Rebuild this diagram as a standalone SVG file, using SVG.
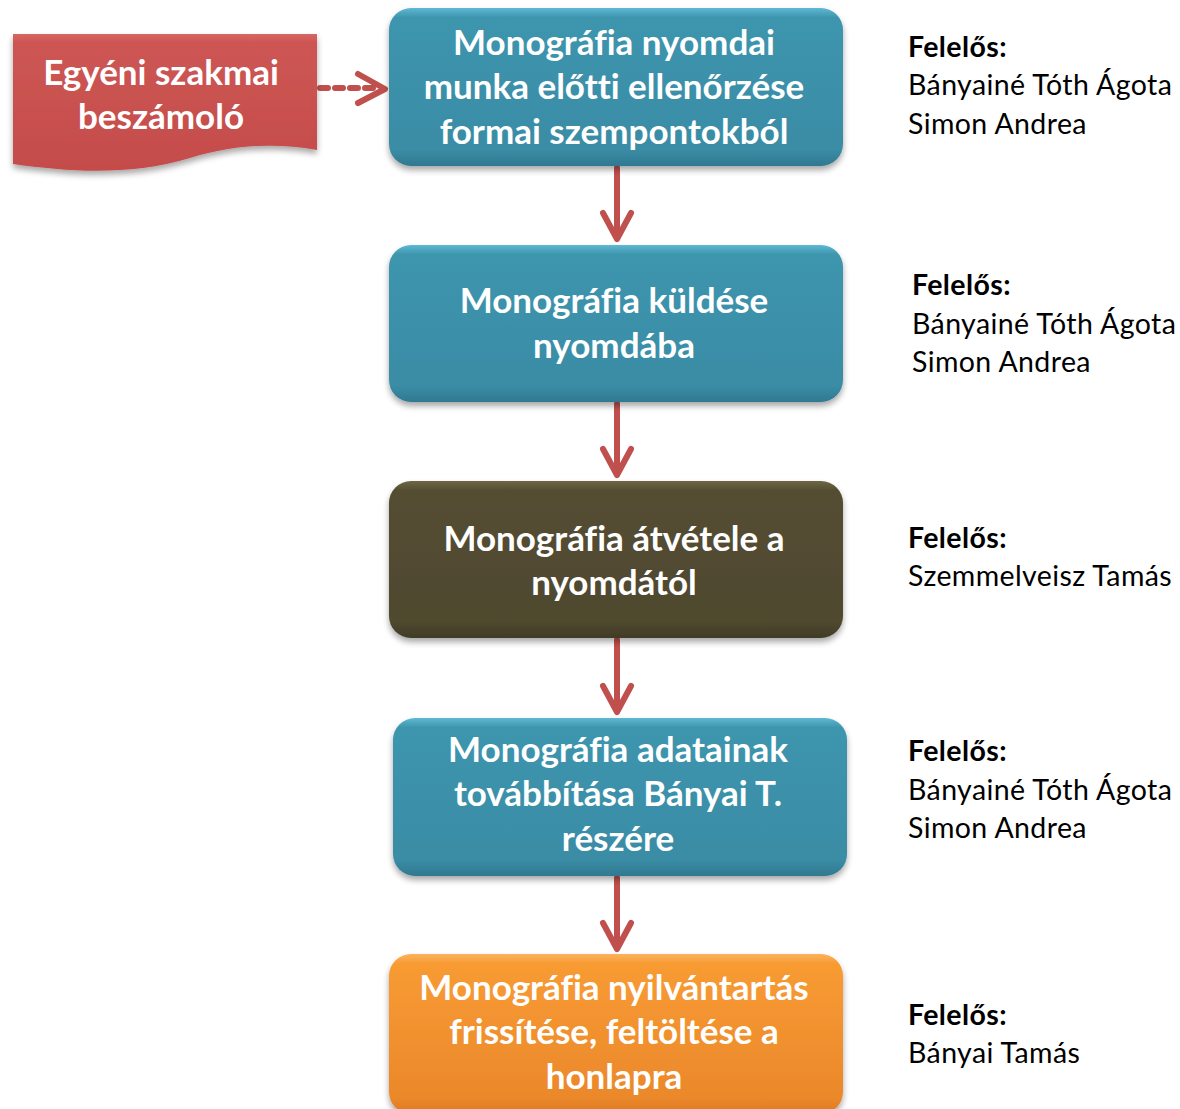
<svg xmlns="http://www.w3.org/2000/svg" width="1180" height="1109" viewBox="0 0 1180 1109">
<defs>
<linearGradient id="gTeal" x1="0" y1="0" x2="0" y2="1">
<stop offset="0" stop-color="#5fb9d2"/><stop offset="0.06" stop-color="#3d95ae"/><stop offset="0.9" stop-color="#3a8ca5"/><stop offset="1" stop-color="#2f7990"/>
</linearGradient>
<linearGradient id="gOlive" x1="0" y1="0" x2="0" y2="1">
<stop offset="0" stop-color="#6e6645"/><stop offset="0.06" stop-color="#544d32"/><stop offset="0.9" stop-color="#4f482f"/><stop offset="1" stop-color="#413b25"/>
</linearGradient>
<linearGradient id="gOrange" x1="0" y1="0" x2="0" y2="1">
<stop offset="0" stop-color="#fbb260"/><stop offset="0.06" stop-color="#f89b33"/><stop offset="0.9" stop-color="#eb882b"/><stop offset="1" stop-color="#dc7a22"/>
</linearGradient>
<linearGradient id="gRed" x1="0" y1="0" x2="0" y2="1">
<stop offset="0" stop-color="#d96764"/><stop offset="0.06" stop-color="#cd5654"/><stop offset="1" stop-color="#c44c4a"/>
</linearGradient>
<filter id="sh" x="-10%" y="-10%" width="120%" height="130%">
<feGaussianBlur in="SourceAlpha" stdDeviation="3"/>
<feOffset dx="0" dy="4" result="b"/>
<feComponentTransfer><feFuncA type="linear" slope="0.35"/></feComponentTransfer>
<feMerge><feMergeNode/><feMergeNode in="SourceGraphic"/></feMerge>
</filter>
</defs>
<style>
text{font-variant-ligatures:none}
.bt{font-family:Lato,"Open Sans","Liberation Sans",sans-serif;font-weight:bold;font-size:35px;fill:#ffffff;text-anchor:middle}
.rb{font-family:Lato,"Open Sans","Liberation Sans",sans-serif;font-weight:bold;font-size:28.5px;fill:#000000;letter-spacing:0.4px}
.rt{font-family:Lato,"Open Sans","Liberation Sans",sans-serif;font-size:28.5px;fill:#000000;letter-spacing:0.4px}
.con{stroke:#c0504d;stroke-width:6;fill:none;stroke-linecap:round;stroke-linejoin:round}
</style>
<g id="connectors">
<line class="con" x1="320" y1="88" x2="380" y2="88" stroke-dasharray="8,7" stroke-linecap="butt" stroke-width="8"/>
<polyline class="con" points="358,74 385,89 358,103" stroke-width="7"/>
<line class="con" x1="617" y1="168" x2="617" y2="238"/>
<polyline class="con" points="603,213 617,239 631,213" stroke-width="7"/>
<line class="con" x1="617" y1="404" x2="617" y2="474"/>
<polyline class="con" points="603,449 617,475 631,449" stroke-width="7"/>
<line class="con" x1="617" y1="640" x2="617" y2="711"/>
<polyline class="con" points="603,686 617,712 631,686" stroke-width="7"/>
<line class="con" x1="617" y1="878" x2="617" y2="948"/>
<polyline class="con" points="603,923 617,949 631,923" stroke-width="7"/>
</g>
<g id="n0">
<path d="M13,34 H317 V150 C270,142 230,146 190,158 C130,176 70,172 13,164 Z" fill="url(#gRed)" filter="url(#sh)"/>
<text class="bt" x="161" y="85">Egyéni szakmai</text>
<text class="bt" x="161" y="129">beszámoló</text>
</g>
<g id="n1">
<rect x="389" y="8" width="454" height="158" rx="22" fill="url(#gTeal)" filter="url(#sh)"/>
<text class="bt" x="614" y="55">Monográfia nyomdai</text>
<text class="bt" x="614" y="99">munka előtti ellenőrzése</text>
<text class="bt" x="614" y="144">formai szempontokból</text>
</g>
<g id="n2">
<rect x="389" y="245" width="454" height="157" rx="22" fill="url(#gTeal)" filter="url(#sh)"/>
<text class="bt" x="614" y="313">Monográfia küldése</text>
<text class="bt" x="614" y="358">nyomdába</text>
</g>
<g id="n3">
<rect x="389" y="481" width="454" height="157" rx="22" fill="url(#gOlive)" filter="url(#sh)"/>
<text class="bt" x="614" y="551">Monográfia átvétele a</text>
<text class="bt" x="614" y="595">nyomdától</text>
</g>
<g id="n4">
<rect x="393" y="718" width="454" height="158" rx="22" fill="url(#gTeal)" filter="url(#sh)"/>
<text class="bt" x="618" y="762">Monográfia adatainak</text>
<text class="bt" x="618" y="806">továbbítása Bányai T.</text>
<text class="bt" x="618" y="851">részére</text>
</g>
<g id="n5">
<rect x="389" y="954" width="454" height="160" rx="22" fill="url(#gOrange)" filter="url(#sh)"/>
<text class="bt" x="614" y="1000">Monográfia nyilvántartás</text>
<text class="bt" x="614" y="1044">frissítése, feltöltése a</text>
<text class="bt" x="614" y="1089">honlapra</text>
</g>
<g id="r1">
<text class="rb" x="908" y="57">Felelős:</text>
<text class="rt" x="908" y="95">Bányainé Tóth Ágota</text>
<text class="rt" x="908" y="134">Simon Andrea</text>
</g>
<g id="r2">
<text class="rb" x="912" y="295">Felelős:</text>
<text class="rt" x="912" y="334">Bányainé Tóth Ágota</text>
<text class="rt" x="912" y="372">Simon Andrea</text>
</g>
<g id="r3">
<text class="rb" x="908" y="548">Felelős:</text>
<text class="rt" x="908" y="586">Szemmelveisz Tamás</text>
</g>
<g id="r4">
<text class="rb" x="908" y="761">Felelős:</text>
<text class="rt" x="908" y="800">Bányainé Tóth Ágota</text>
<text class="rt" x="908" y="838">Simon Andrea</text>
</g>
<g id="r5">
<text class="rb" x="908" y="1025">Felelős:</text>
<text class="rt" x="908" y="1063">Bányai Tamás</text>
</g>
</svg>
